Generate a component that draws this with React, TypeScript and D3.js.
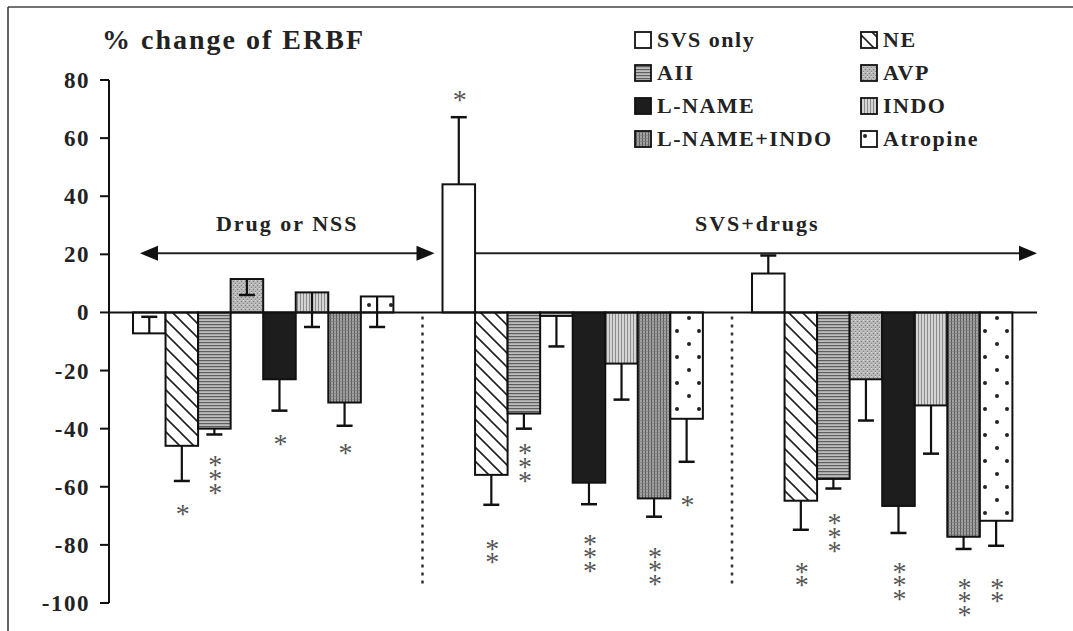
import React from 'react';
import * as d3 from 'd3';

// ---------- data ----------
const series = ['SVS only', 'NE', 'AII', 'AVP', 'L-NAME', 'INDO', 'L-NAME+INDO', 'Atropine'];
const groupIds = ['Drug or NSS', 'SVS+drugs A', 'SVS+drugs B'];

const valuesDrug = [-7.2, -45.9, -40, 11.5, -23, 6.9, -31, 5.5];
const valuesSvsA = [44.1, -55.9, -34.8, -1.2, -58.6, -17.6, -64, -36.6];
const valuesSvsB = [13.4, -64.8, -57.3, -23, -66.6, -32, -77.2, -71.7];

// end of each error whisker (value units)
const errDrug = [-1.5, -58, -42, 6, -33.8, -5, -39, -5];
const errSvsA = [67.2, -66.2, -40, -11.7, -66, -30, -70.3, -51.4];
const errSvsB = [19.6, -74.8, -60.6, -37.2, -75.9, -48.6, -81.4, -80.3];

// significance stars: count and value of the first star
const starsDrug = [0, 1, 3, 0, 1, 0, 1, 0];
const starsSvsA = [1, 2, 3, 0, 3, 0, 3, 1];
const starsSvsB = [0, 2, 3, 0, 3, 0, 3, 2];
const starAtDrug = [0, -67.2, -50.3, 0, -42.8, 0, -46.2, 0];
const starAtSvsA = [75.5, -79, -46.2, 0, -77.2, 0, -81.7, -64];
const starAtSvsB = [0, -86.9, -70.3, 0, -86.9, 0, -92.4, -92.4];

const yTicks = [80, 60, 40, 20, 0, -20, -40, -60, -80, -100];
const title = '% change of ERBF';
const arrowLabels = ['Drug or NSS', 'SVS+drugs'];

const values = [valuesDrug, valuesSvsA, valuesSvsB];
const errs = [errDrug, errSvsA, errSvsB];
const stars = [starsDrug, starsSvsA, starsSvsB];
const starAt = [starAtDrug, starAtSvsA, starAtSvsB];

// ---------- layout ----------
const W = 1073;
const H = 631;
const FONT = 'Liberation Serif';
const y = d3.scaleLinear().domain([-100, 80]).range([603, 80]);
const xg = d3.scaleBand().domain(groupIds).range([133, 1012.4]).paddingInner(0.1587).paddingOuter(0);
const xs = d3.scaleBand().domain(series).range([0, xg.bandwidth()]).padding(0);
const axisX = 109;
const plotRight = 1037;
const STAR_FS = 28;
const STAR_STEP = 14.8;

const fills = [
  'white',
  'url(#pNE)',
  'url(#pAII)',
  'url(#pAVP)',
  '#1d1d1d',
  'url(#pINDO)',
  'url(#pLNI)',
  'url(#pATR)',
];

function Arrow({ x1, x2, yy }: { x1: number; x2: number; yy: number }) {
  const L = 18;
  const h = 7.5;
  return (
    <g>
      <line x1={x1 + 4} x2={x2 - 4} y1={yy} y2={yy} stroke="#222" strokeWidth={2} />
      <polygon points={`${x1},${yy} ${x1 + L},${yy - h} ${x1 + L},${yy + h}`} fill="#111" />
      <polygon points={`${x2},${yy} ${x2 - L},${yy - h} ${x2 - L},${yy + h}`} fill="#111" />
    </g>
  );
}

export default function App() {
  const bars: any[] = [];
  groupIds.forEach((g, gi) => {
    series.forEach((s, si) => {
      const v = values[gi][si];
      const x0 = (xg(g) as number) + (xs(s) as number);
      const bw = xs.bandwidth();
      const cx = x0 + bw / 2;
      const yTop = Math.min(y(v), y(0));
      const hgt = Math.abs(y(v) - y(0));
      const e = errs[gi][si];
      const n = stars[gi][si];
      let starText = null;
      if (n > 0) {
        const c0 = y(starAt[gi][si]);
        starText = (
          <text
            x={cx + 1}
            y={c0 - 0.33 * STAR_FS}
            fontFamily={FONT}
            fontSize={STAR_FS}
            fill="#555"
            writingMode="vertical-rl"
            letterSpacing={STAR_STEP - 1.15 * STAR_FS}
            style={{ textOrientation: 'upright' } as any}
          >
            {'*'.repeat(n)}
          </text>
        );
      }
      bars.push(
        <g key={`${gi}-${si}`}>
          <rect x={x0} y={yTop} width={bw} height={hgt} fill={fills[si]} stroke="#111" strokeWidth={2} />
          <line x1={cx} x2={cx} y1={y(v)} y2={y(e)} stroke="#111" strokeWidth={2.2} />
          <line x1={cx - 8} x2={cx + 8} y1={y(e)} y2={y(e)} stroke="#111" strokeWidth={2.5} />
          {starText}
        </g>
      );
    });
  });

  const g1 = xg(groupIds[1]) as number;
  const g2 = xg(groupIds[2]) as number;
  const g0 = xg(groupIds[0]) as number;
  const a1 = [g0 + 7, g1 - 8];
  const a2 = [g1 + 5, plotRight];

  const legendColX = [635, 861];

  return (
    <svg
      width={W}
      height={H}
      style={{ position: 'absolute', left: 0, top: 0, display: 'block', background: 'white' }}
    >
      <defs>
        <pattern id="pNE" patternUnits="userSpaceOnUse" width={14} height={14}>
          <rect width={14} height={14} fill="white" />
          <path d="M-2,-2 L16,16 M-2,12 L2,16 M12,-2 L16,2" stroke="#222" strokeWidth={1.6} />
        </pattern>
        <pattern id="pAII" patternUnits="userSpaceOnUse" width={4} height={3}>
          <rect width={4} height={3} fill="#bdbdbd" />
          <rect y={0} width={4} height={1.2} fill="#5e5e5e" />
        </pattern>
        <pattern id="pAVP" patternUnits="userSpaceOnUse" width={4} height={4}>
          <rect width={4} height={4} fill="#b8b8b8" />
          <rect x={1} y={1} width={1} height={1} fill="#7a7a7a" />
          <rect x={3} y={3} width={1} height={1} fill="#858585" />
          <rect x={3} y={0} width={1} height={1} fill="#d8d8d8" />
        </pattern>
        <pattern id="pINDO" patternUnits="userSpaceOnUse" width={3} height={4}>
          <rect width={3} height={4} fill="#d4d4d4" />
          <rect x={0} width={1} height={4} fill="#8c8c8c" />
        </pattern>
        <pattern id="pLNI" patternUnits="userSpaceOnUse" width={3} height={3}>
          <rect width={3} height={3} fill="#a2a2a2" />
          <rect x={0} width={1} height={3} fill="#5a5a5a" />
          <rect y={0} width={3} height={0.6} fill="#7a7a7a" />
        </pattern>
        <pattern id="pATR" patternUnits="userSpaceOnUse" width={22} height={26}>
          <rect width={22} height={26} fill="white" />
          <circle cx={7} cy={6} r={2} fill="#222" />
          <circle cx={17} cy={19} r={2} fill="#222" />
        </pattern>
      </defs>

      {/* frame */}
      <line x1={8} x2={W} y1={7} y2={7} stroke="#444" strokeWidth={1.5} />
      <line x1={8} x2={8} y1={7} y2={H} stroke="#333" strokeWidth={1.5} />

      {/* title */}
      <text x={102} y={49} fontFamily={FONT} fontWeight="bold" fontSize={28} letterSpacing={2} fill="#222">
        {title}
      </text>

      {/* y axis */}
      <line x1={axisX} x2={axisX} y1={y(80)} y2={y(-100)} stroke="#111" strokeWidth={2} />
      {yTicks.map((t) => (
        <g key={t}>
          <line x1={axisX - 9} x2={axisX} y1={y(t)} y2={y(t)} stroke="#111" strokeWidth={2} />
          <text
            x={90}
            y={y(t) + 8}
            textAnchor="end"
            fontFamily={FONT}
            fontWeight="bold"
            fontSize={23}
            letterSpacing={1.5}
            fill="#222"
          >
            {t}
          </text>
        </g>
      ))}

      {/* separators */}
      {[g1, g2].map((gx, i) => (
        <line
          key={i}
          x1={gx - 20}
          x2={gx - 20}
          y1={y(0) + 4}
          y2={y(-94)}
          stroke="#333"
          strokeWidth={2.5}
          strokeDasharray="3 5"
        />
      ))}

      {/* arrows */}
      <Arrow x1={a1[0]} x2={a1[1]} yy={y(20) - 1} />
      <Arrow x1={a2[0]} x2={a2[1]} yy={y(20) - 1} />
      <text
        x={(a1[0] + a1[1]) / 2}
        y={231}
        textAnchor="middle"
        fontFamily={FONT}
        fontWeight="bold"
        fontSize={22}
        letterSpacing={2}
        fill="#222"
      >
        {arrowLabels[0]}
      </text>
      <text
        x={(a2[0] + a2[1]) / 2 + 15}
        y={231}
        textAnchor="middle"
        fontFamily={FONT}
        fontWeight="bold"
        fontSize={22}
        letterSpacing={2}
        fill="#222"
      >
        {arrowLabels[1]}
      </text>

      {/* bars */}
      {bars}

      {/* zero line */}
      <line x1={axisX} x2={plotRight} y1={y(0)} y2={y(0)} stroke="#111" strokeWidth={2} />

      {/* legend */}
      {series.map((s, i) => {
        const col = i % 2;
        const row = Math.floor(i / 2);
        const bx = legendColX[col];
        const by = 47 + row * 33;
        return (
          <g key={s}>
            <rect x={bx} y={by - 15} width={16} height={16} fill={fills[i]} stroke="#111" strokeWidth={1.8} />
            <text
              x={bx + 22}
              y={by}
              fontFamily={FONT}
              fontWeight="bold"
              fontSize={22}
              letterSpacing={1.5}
              fill="#222"
            >
              {s}
            </text>
          </g>
        );
      })}
    </svg>
  );
}
